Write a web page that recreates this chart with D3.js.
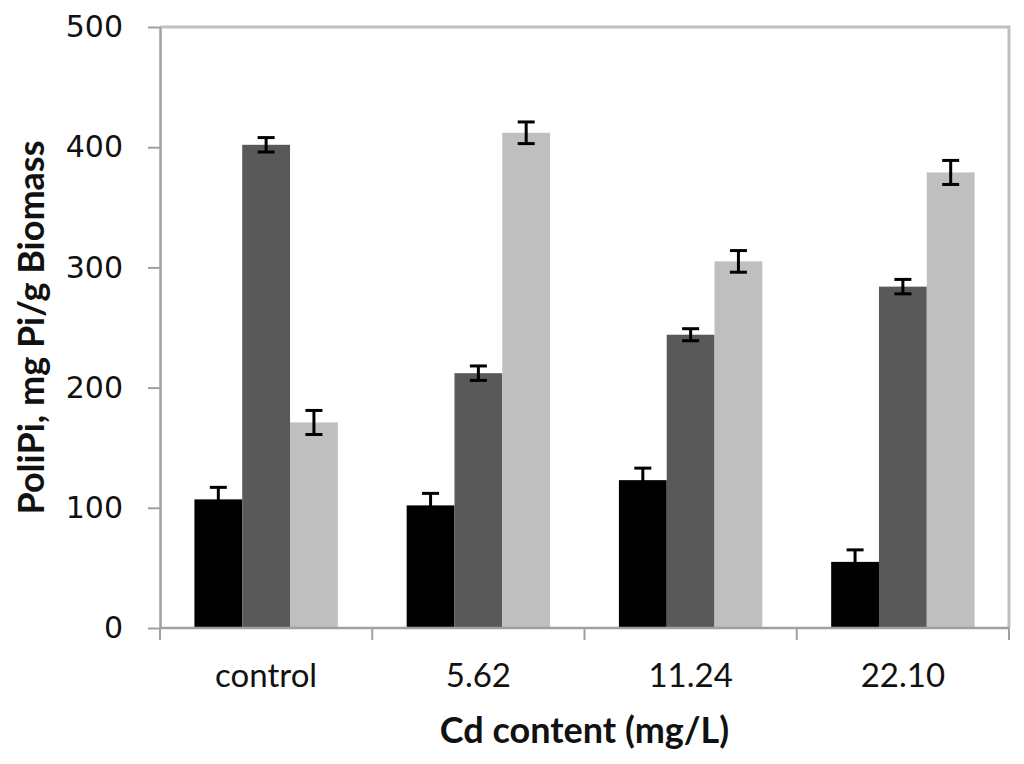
<!DOCTYPE html>
<html>
<head>
<meta charset="utf-8">
<script src="https://cdn.jsdelivr.net/npm/d3@7"></script>
<style>
  body { margin: 0; background: #fff; }
</style>
</head>
<body>
<div id="chart"></div>
<script>
// categories on the x axis
const categories = ["control", "5.62", "11.24", "22.10"];
const seriesKeys = ["s1", "s2", "s3"];
// bar heights per series (mg Pi/g biomass)
const series1 = [107, 102, 123, 55];
const series2 = [402, 212, 244, 284];
const series3 = [171, 412, 305, 379];
// error bars (+/-)
const err1 = [10, 10, 10, 10];
const err2 = [6, 6, 5, 6];
const err3 = [10, 9, 9, 10];
const yTicks = [0, 100, 200, 300, 400, 500];

const colors = { s1: "#000000", s2: "#595959", s3: "#bfbfbf" };

const width = 1024, height = 764;
const margin = { top: 27, right: 15, bottom: 136, left: 160 };

const svg = d3.select("#chart").append("svg")
    .attr("width", width)
    .attr("height", height);

// build rows for drawing
const rows = categories.map((c, i) => ({
    cat: c,
    s1: series1[i], s2: series2[i], s3: series3[i],
    e1: err1[i], e2: err2[i], e3: err3[i]
}));

const x0 = d3.scaleBand()
    .domain(categories)
    .range([margin.left, width - margin.right])
    .padding(0);

const x1 = d3.scaleBand()
    .domain(seriesKeys)
    .range([0, x0.bandwidth()])
    .paddingInner(0)
    .paddingOuter(0.72);

const y = d3.scaleLinear()
    .domain([0, 500])
    .range([height - margin.bottom, margin.top]);

// plot border (top + right, light gray)
svg.append("path")
    .attr("d", `M${margin.left},${margin.top}H${width - margin.right}V${height - margin.bottom}`)
    .attr("fill", "none")
    .attr("stroke", "#c0c0c0")
    .attr("stroke-width", 3);

// bars
const groups = svg.selectAll(".grp")
    .data(rows)
    .enter()
    .append("g")
    .attr("class", "grp")
    .attr("transform", d => `translate(${x0(d.cat)},0)`);

seriesKeys.forEach((k, j) => {
    groups.append("rect")
        .attr("x", x1(k))
        .attr("y", d => y(d[k]))
        .attr("width", x1.bandwidth())
        .attr("height", d => y(0) - y(d[k]))
        .attr("fill", colors[k]);
});

// error bars
seriesKeys.forEach((k, j) => {
    const ek = "e" + (j + 1);
    const cx = x1(k) + x1.bandwidth() / 2;
    const cap = 8.5;
    const eb = groups.append("g");
    eb.append("line")
        .attr("x1", cx).attr("x2", cx)
        .attr("y1", d => y(d[k] + d[ek]))
        .attr("y2", d => y(d[k] - d[ek]))
        .attr("stroke", "#000").attr("stroke-width", 3);
    eb.append("line")
        .attr("x1", cx - cap).attr("x2", cx + cap)
        .attr("y1", d => y(d[k] + d[ek]))
        .attr("y2", d => y(d[k] + d[ek]))
        .attr("stroke", "#000").attr("stroke-width", 3);
    eb.append("line")
        .attr("x1", cx - cap).attr("x2", cx + cap)
        .attr("y1", d => y(d[k] - d[ek]))
        .attr("y2", d => y(d[k] - d[ek]))
        .attr("stroke", "#000").attr("stroke-width", 3)
        .attr("display", d => k === "s1" ? "none" : null);
});

// y axis
const yAxis = svg.append("g")
    .attr("transform", `translate(${margin.left},0)`)
    .call(d3.axisLeft(y).tickValues(yTicks).tickSize(12).tickPadding(25).tickSizeOuter(0));
yAxis.select(".domain").attr("stroke", "#a0a0a0").attr("stroke-width", 2.5);
yAxis.selectAll(".tick line").attr("stroke", "#a0a0a0").attr("stroke-width", 2);
yAxis.selectAll(".tick text")
    .attr("font-family", "'DejaVu Sans', Verdana, sans-serif")
    .attr("font-size", "30px")
    .attr("fill", "#111");

// x axis: ticks on category boundaries
const xAxis = svg.append("g")
    .attr("transform", `translate(0,${y(0)})`);
xAxis.append("line")
    .attr("x1", margin.left).attr("x2", width - margin.right)
    .attr("stroke", "#a0a0a0").attr("stroke-width", 2.5);
xAxis.selectAll(".xt")
    .data(categories)
    .enter()
    .append("line")
    .attr("x1", d => x0(d) + x0.bandwidth())
    .attr("x2", d => x0(d) + x0.bandwidth())
    .attr("y1", 0).attr("y2", 12)
    .attr("stroke", "#a0a0a0").attr("stroke-width", 2);
xAxis.append("line")
    .attr("x1", margin.left).attr("x2", margin.left)
    .attr("y1", 0).attr("y2", 12)
    .attr("stroke", "#a0a0a0").attr("stroke-width", 2);
xAxis.selectAll(".xl")
    .data(categories)
    .enter()
    .append("text")
    .attr("x", d => x0(d) + x0.bandwidth() / 2)
    .attr("y", 59)
    .attr("text-anchor", "middle")
    .attr("font-family", "Lato, 'Open Sans', sans-serif")
    .attr("font-size", "33px")
    .attr("fill", "#111")
    .text(d => d);

// axis titles
svg.append("text")
    .attr("x", (margin.left + width - margin.right) / 2)
    .attr("y", 743)
    .attr("text-anchor", "middle")
    .attr("font-family", "Lato, 'Open Sans', sans-serif")
    .attr("font-weight", "bold")
    .attr("font-size", "36px")
    .attr("fill", "#111")
    .text("Cd content (mg/L)");

svg.append("text")
    .attr("transform", `translate(44,${(y(0) + y(500)) / 2}) rotate(-90)`)
    .attr("text-anchor", "middle")
    .attr("font-family", "Lato, 'Open Sans', sans-serif")
    .attr("font-weight", "bold")
    .attr("font-size", "36px")
    .attr("fill", "#111")
    .text("PoliPi, mg Pi/g Biomass");
</script>
</body>
</html>
